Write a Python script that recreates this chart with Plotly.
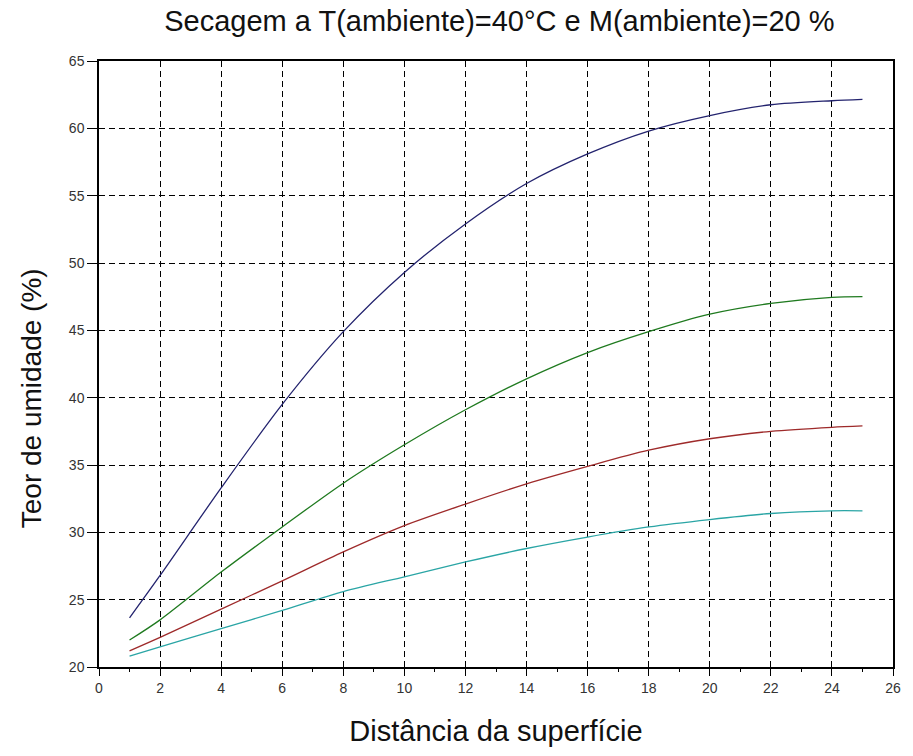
import plotly.graph_objects as go

# Moisture profiles across the sample depth
distance = [1, 2, 4, 6, 8, 10, 12, 14, 16, 18, 20, 22, 24, 25]
moisture_blue = [23.65, 26.8, 33.3, 39.5, 44.9, 49.3, 52.9, 55.9, 58.1, 59.8, 60.95, 61.75, 62.05, 62.15]
moisture_green = [22.0, 23.5, 27.05, 30.4, 33.65, 36.5, 39.1, 41.4, 43.35, 44.9, 46.2, 47.0, 47.45, 47.5]
moisture_red = [21.2, 22.2, 24.3, 26.4, 28.55, 30.5, 32.1, 33.6, 34.9, 36.1, 36.95, 37.5, 37.8, 37.9]
moisture_cyan = [20.8, 21.5, 22.85, 24.2, 25.6, 26.7, 27.8, 28.8, 29.65, 30.4, 30.95, 31.4, 31.6, 31.6]

x_ticks = list(range(0, 27, 2))
y_ticks = list(range(20, 66, 5))

series = [
    (moisture_blue, "#23236e"),
    (moisture_green, "#1f7a1f"),
    (moisture_red, "#9e2a2a"),
    (moisture_cyan, "#2aa5a5"),
]

fig = go.Figure()
for values, color in series:
    fig.add_trace(go.Scatter(
        x=distance, y=values, mode="lines",
        line=dict(color=color, width=1.3, shape="spline", smoothing=0.8),
        showlegend=False,
    ))

font_family = "Liberation Sans, Arial, sans-serif"

fig.update_layout(
    width=913, height=756,
    margin=dict(l=99, r=12, t=61, b=89),
    paper_bgcolor="white", plot_bgcolor="white",
    font=dict(family=font_family, color="#222"),
    title=dict(
        text="Secagem a T(ambiente)=40°C e M(ambiente)=20 %",
        x=0.547, xanchor="center", y=0.973, yanchor="middle",
        font=dict(size=29, color="#111", family=font_family),
    ),
    annotations=[dict(
        text="Teor de umidade (%)", textangle=-90,
        xref="paper", yref="paper", x=-0.084, y=0.444,
        xanchor="center", yanchor="middle", showarrow=False,
        font=dict(size=28, color="#111", family=font_family),
    )],
)

fig.update_xaxes(
    range=[0, 26], tickvals=x_ticks, ticktext=[str(v) for v in x_ticks],
    showgrid=True, gridcolor="black", gridwidth=1.3, griddash="6px,4px",
    showline=True, linecolor="black", linewidth=1.5, mirror=True,
    ticks="outside", ticklen=7, tickwidth=1.3, tickcolor="black",
    minor=dict(dtick=1, tick0=0, ticks="outside", ticklen=3, tickwidth=1, tickcolor="black", showgrid=False),
    tickfont=dict(size=14, color="#333"),
    zeroline=False,
    title=dict(text="Distância da superfície", font=dict(size=29, color="#111"), standoff=26),
)
fig.update_yaxes(
    range=[20, 65], tickvals=y_ticks, ticktext=[str(v) for v in y_ticks],
    showgrid=True, gridcolor="black", gridwidth=1.3, griddash="6px,4px",
    showline=True, linecolor="black", linewidth=1.5, mirror=True,
    ticks="outside", ticklen=10, tickwidth=1.3, tickcolor="black",
    tickfont=dict(size=14, color="#333"),
    zeroline=False,
)

fig.write_html("out.html")
